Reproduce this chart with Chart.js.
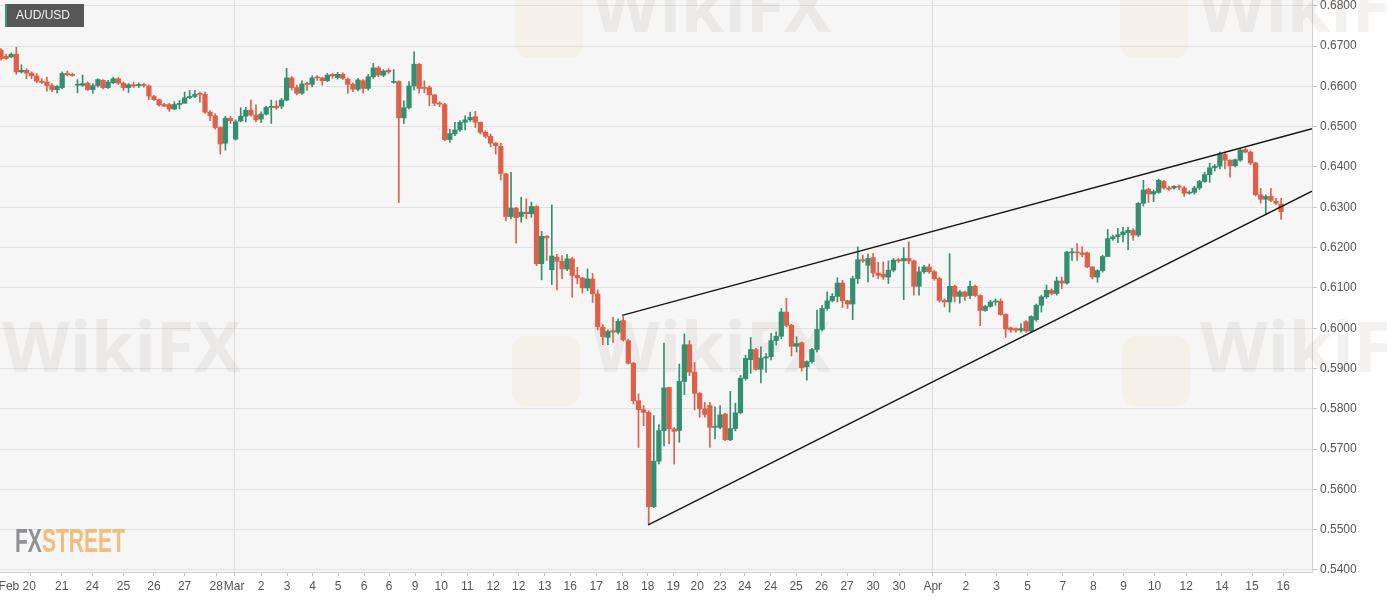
<!DOCTYPE html>
<html>
<head>
<meta charset="utf-8">
<script src="https://cdn.jsdelivr.net/npm/chart.js@4.4.1/dist/chart.umd.min.js"></script>
<style>
html, body { margin: 0; padding: 0; background: #fff; }
#wrap { width: 1387px; height: 598px; }
</style>
</head>
<body>
<div id="wrap"><canvas id="audusd" width="1387" height="598"></canvas></div>
<script>
// AUD/USD 4h candles, one value per candle (index 0 = first candle on the left)
const opens = [
  .6690,.6675,.6673,.6680,.6636,.6640,.6633,.6626,.6613,.6611,
  .6602,.6592,.6597,.6632,.6630,.6603,.6603,.6608,.6592,.6602,
  .6615,.6597,.6609,.6619,.6608,.6597,.6604,.6602,.6605,.6601,
  .6575,.6567,.6555,.6555,.6544,.6555,.6558,.6572,.6575,.6583,
  .6580,.6536,.6527,.6498,.6459,.6521,.6469,.6514,.6526,.6541,
  .6529,.6519,.6531,.6548,.6551,.6551,.6566,.6621,.6597,.6583,
  .6607,.6605,.6623,.6621,.6614,.6630,.6622,.6630,.6618,.6605,
  .6593,.6614,.6595,.6624,.6646,.6628,.6640,.6610,.6612,.6522,
  .6547,.6601,.6655,.6596,.6597,.6579,.6558,.6555,.6468,.6482,
  .6492,.6511,.6517,.6525,.6511,.6486,.6476,.6459,.6451,.6383,
  .6277,.6298,.6277,.6288,.6284,.6302,.6160,.6228,.6145,.6176,
  .6166,.6147,.6172,.6131,.6125,.6100,.6122,.6085,.6002,.5977,
  .5994,.5990,.6019,.5969,.5913,.5820,.5798,.5791,.5557,.5670,
  .5746,.5853,.5750,.5746,.5868,.5959,.5891,.5838,.5800,.5808,
  .5754,.5754,.5787,.5723,.5751,.5790,.5875,.5922,.5947,.5898,
  .5926,.5929,.5969,.5980,.6040,.6007,.5955,.5964,.5904,.5917,
  .5947,.5997,.6049,.6068,.6079,.6112,.6068,.6060,.6123,.6170,
  .6156,.6175,.6137,.6134,.6127,.6144,.6170,.6167,.6173,.6167,
  .6104,.6140,.6152,.6140,.6123,.6069,.6065,.6104,.6079,.6090,
  .6081,.6104,.6081,.6044,.6054,.6065,.6067,.6034,.6001,.5999,
  .5995,.6016,.5993,.6021,.6057,.6078,.6094,.6086,.6117,.6112,
  .6187,.6189,.6187,.6187,.6152,.6127,.6143,.6178,.6222,.6227,
  .6232,.6237,.6243,.6231,.6310,.6345,.6333,.6337,.6364,.6348,
  .6348,.6352,.6348,.6335,.6337,.6348,.6364,.6381,.6398,.6402,
  .6431,.6417,.6403,.6417,.6443,.6437,.6410,.6331,.6320,.6327,
  .6315,.6308
];
const highs = [
  .6694,.6680,.6683,.6697,.6654,.6644,.6636,.6632,.6619,.6623,
  .6607,.6602,.6636,.6638,.6633,.6617,.6628,.6611,.6607,.6619,
  .6617,.6615,.6623,.6622,.6611,.6607,.6611,.6609,.6608,.6604,
  .6578,.6569,.6558,.6558,.6562,.6565,.6586,.6590,.6590,.6586,
  .6586,.6540,.6532,.6500,.6526,.6526,.6517,.6547,.6548,.6566,
  .6554,.6537,.6551,.6566,.6564,.6570,.6645,.6624,.6603,.6614,
  .6611,.6626,.6627,.6623,.6632,.6632,.6635,.6634,.6621,.6609,
  .6620,.6617,.6630,.6657,.6650,.6642,.6644,.6642,.6614,.6564,
  .6612,.6686,.6657,.6614,.6601,.6580,.6562,.6558,.6494,.6511,
  .6515,.6527,.6536,.6538,.6512,.6490,.6482,.6461,.6459,.6384,
  .6387,.6300,.6325,.6321,.6313,.6304,.6240,.6230,.6306,.6183,
  .6180,.6183,.6176,.6151,.6126,.6147,.6136,.6095,.6009,.5996,
  .6027,.6023,.6029,.5973,.5915,.5837,.5808,.5795,.5783,.5761,
  .5963,.5853,.5754,.5911,.5986,.5969,.5915,.5841,.5816,.5816,
  .5805,.5808,.5789,.5843,.5814,.5883,.5933,.5977,.5950,.5954,
  .5937,.5987,.5991,.6049,.6074,.6010,.5979,.5966,.5919,.5950,
  .6045,.6057,.6090,.6086,.6125,.6119,.6069,.6129,.6202,.6181,
  .6184,.6185,.6164,.6164,.6167,.6173,.6173,.6200,.6214,.6169,
  .6152,.6156,.6159,.6144,.6127,.6073,.6185,.6107,.6094,.6092,
  .6117,.6107,.6083,.6057,.6069,.6073,.6073,.6036,.6003,.6001,
  .6011,.6019,.6031,.6060,.6082,.6107,.6098,.6127,.6127,.6191,
  .6198,.6210,.6202,.6189,.6153,.6145,.6181,.6245,.6231,.6248,
  .6250,.6250,.6247,.6312,.6367,.6347,.6343,.6370,.6367,.6352,
  .6354,.6356,.6352,.6341,.6352,.6367,.6387,.6410,.6406,.6437,
  .6437,.6418,.6420,.6445,.6447,.6440,.6412,.6347,.6331,.6347,
  .6322,.6322
];
const lows = [
  .6665,.6667,.6672,.6630,.6633,.6619,.6619,.6609,.6607,.6588,
  .6586,.6584,.6594,.6626,.6625,.6584,.6600,.6590,.6583,.6598,
  .6594,.6595,.6607,.6605,.6590,.6585,.6597,.6597,.6598,.6567,
  .6565,.6551,.6550,.6538,.6542,.6544,.6560,.6569,.6572,.6561,
  .6533,.6515,.6494,.6432,.6442,.6508,.6467,.6512,.6512,.6526,
  .6512,.6510,.6529,.6508,.6543,.6545,.6564,.6591,.6579,.6580,
  .6590,.6599,.6615,.6603,.6612,.6620,.6618,.6617,.6583,.6587,
  .6589,.6583,.6591,.6620,.6624,.6624,.6632,.6608,.6312,.6508,
  .6544,.6591,.6583,.6584,.6552,.6552,.6550,.6465,.6461,.6478,
  .6488,.6492,.6513,.6498,.6482,.6472,.6450,.6432,.6368,.6267,
  .6271,.6211,.6263,.6271,.6275,.6155,.6120,.6168,.6108,.6095,
  .6122,.6143,.6077,.6110,.6087,.6093,.6064,.5996,.5959,.5959,
  .5965,.5986,.5968,.5911,.5812,.5704,.5758,.5512,.5555,.5663,
  .5708,.5713,.5663,.5717,.5835,.5882,.5797,.5779,.5779,.5704,
  .5725,.5750,.5721,.5721,.5745,.5788,.5871,.5888,.5896,.5864,
  .5890,.5921,.5958,.5974,.6003,.5931,.5941,.5894,.5871,.5913,
  .5941,.5993,.6045,.6065,.6065,.6051,.6049,.6021,.6111,.6163,
  .6115,.6127,.6123,.6121,.6111,.6140,.6163,.6071,.6160,.6082,
  .6082,.6136,.6136,.6119,.6065,.6053,.6040,.6065,.6062,.6069,
  .6073,.6079,.6006,.6042,.6052,.6057,.6032,.5977,.5990,.5990,
  .5990,.5990,.5990,.6017,.6040,.6074,.6082,.6082,.6098,.6109,
  .6168,.6168,.6177,.6150,.6122,.6114,.6139,.6177,.6218,.6212,
  .6214,.6195,.6218,.6227,.6303,.6312,.6314,.6335,.6345,.6342,
  .6345,.6344,.6327,.6333,.6333,.6344,.6362,.6362,.6390,.6395,
  .6395,.6375,.6400,.6414,.6435,.6406,.6328,.6310,.6283,.6314,
  .6307,.6270
];
const closes = [
  .6669,.6669,.6680,.6636,.6640,.6633,.6626,.6613,.6610,.6602,
  .6592,.6600,.6632,.6629,.6627,.6605,.6607,.6592,.6602,.6617,
  .6597,.6611,.6619,.6608,.6597,.6604,.6601,.6605,.6602,.6576,
  .6567,.6554,.6551,.6544,.6555,.6558,.6572,.6575,.6580,.6580,
  .6536,.6527,.6498,.6457,.6521,.6515,.6512,.6526,.6541,.6529,
  .6517,.6531,.6548,.6550,.6547,.6566,.6621,.6597,.6583,.6606,
  .6605,.6621,.6621,.6614,.6628,.6626,.6630,.6620,.6605,.6593,
  .6616,.6595,.6624,.6646,.6628,.6638,.6636,.6612,.6522,.6547,
  .6601,.6655,.6595,.6595,.6579,.6558,.6556,.6468,.6483,.6492,
  .6511,.6517,.6523,.6511,.6486,.6476,.6459,.6453,.6384,.6277,
  .6298,.6274,.6288,.6284,.6302,.6160,.6228,.6224,.6179,.6166,
  .6147,.6172,.6131,.6125,.6100,.6122,.6085,.6004,.5979,.5992,
  .5990,.6017,.5971,.5913,.5820,.5798,.5791,.5557,.5670,.5746,
  .5852,.5750,.5744,.5868,.5959,.5891,.5838,.5800,.5786,.5754,
  .5756,.5785,.5723,.5751,.5790,.5876,.5925,.5947,.5898,.5926,
  .5929,.5969,.5980,.6040,.6007,.5955,.5962,.5902,.5917,.5947,
  .5997,.6049,.6068,.6079,.6112,.6068,.6060,.6123,.6170,.6167,
  .6173,.6137,.6131,.6127,.6144,.6169,.6167,.6173,.6167,.6104,
  .6140,.6152,.6140,.6123,.6069,.6065,.6104,.6079,.6090,.6079,
  .6104,.6081,.6044,.6054,.6065,.6067,.6034,.5998,.5996,.5995,
  .5999,.5993,.6029,.6057,.6078,.6094,.6086,.6117,.6112,.6189,
  .6189,.6187,.6183,.6152,.6127,.6143,.6178,.6222,.6227,.6232,
  .6239,.6243,.6231,.6310,.6343,.6333,.6339,.6367,.6348,.6345,
  .6352,.6350,.6335,.6337,.6348,.6364,.6381,.6398,.6402,.6431,
  .6417,.6403,.6418,.6442,.6437,.6410,.6331,.6320,.6327,.6317,
  .6310,.6289
];

// x axis labels, placed at candle positions
const tickPos = [5.8, 11.9, 17.9, 24.0, 30.0, 36.0, 42.2, 45.7,
  51.0, 56.1, 61.1, 66.1, 71.2, 76.1, 81.2, 86.3, 91.4, 96.5, 101.5, 106.6,
  111.6, 116.7, 121.8, 126.8, 131.8, 136.5, 141.0, 145.8, 150.9, 155.9, 160.9, 165.9,
  171.0, 176.1, 182.7, 189.2, 195.2, 201.3, 208.2, 214.2, 220.1, 226.2, 232.4, 239.4, 245.3, 251.4];
const tickText = ['Feb 20        ', '21', '24', '25', '26', '27', '28', 'Mar',
  '2', '3', '4', '5', '6', '6', '9', '10', '11', '12', '12', '13',
  '16', '17', '18', '18', '19', '20', '23', '24', '24', '25', '26', '27',
  '30', '30', 'Apr', '2', '3', '5', '7', '8', '9', '10', '12', '14', '15', '16'];
const monthTicks = ['Mar', 'Apr'];
const yTicks = [0.54, 0.55, 0.56, 0.57, 0.58, 0.59, 0.60, 0.61, 0.62, 0.63, 0.64, 0.65, 0.66, 0.67, 0.68];

// wedge lines: [candle index, price]
const upperLine = [[121.8, 0.6032], [257.06, 0.6495]];
const lowerLine = [[126.9, 0.5512], [257.06, 0.6340]];

const GREEN = '#338f70', RED = '#df6048';
const candleColors = closes.map((c, i) => c >= opens[i] ? GREEN : RED);
const bodies = opens.map((o, i) => ({x: i, y: [Math.min(o, closes[i]), Math.max(o, closes[i])]}));
const wicks = highs.map((h, i) => ({x: i, y: [lows[i], h]}));

Chart.defaults.font.family = '"Liberation Sans", Arial, sans-serif';

const decor = {
    id: 'decor',
    beforeDraw(chart) {
        const {ctx, chartArea: a} = chart;
        ctx.save();
        ctx.fillStyle = '#ffffff';
        ctx.fillRect(0, 0, chart.width, chart.height);
        ctx.fillStyle = '#f6f6f6';
        ctx.fillRect(a.left, a.top, a.right - a.left, a.bottom - a.top);
        ctx.restore();
    },
    beforeDatasetsDraw(chart) {
        // faint watermarks
        const ctx = chart.ctx;
        ctx.save();
        ctx.fillStyle = 'rgba(240,195,110,0.10)';
        [[515, -12], [1120, -12], [512, 336], [1122, 336]].forEach(([x, y]) => {
            ctx.beginPath();
            ctx.roundRect(x, y, 68, 70, 14);
            ctx.fill();
        });
        ctx.font = 'bold 70px "Open Sans", sans-serif';
        ctx.fillStyle = 'rgba(150,125,120,0.10)';
        [[592, 32], [1198, 32], [2, 372], [592, 372], [1200, 372]].forEach(([x, y]) => {
            ctx.fillText('WikiFX', x, y);
        });
        ctx.restore();
    },
    afterDraw(chart) {
        const ctx = chart.ctx;
        ctx.save();
        // pair label
        ctx.fillStyle = '#575757';
        ctx.fillRect(5, 4, 79, 23);
        ctx.fillStyle = '#2e9a76';
        ctx.fillRect(5, 4, 2, 23);
        ctx.fillStyle = '#f2f2f2';
        ctx.font = '12px "Liberation Sans", Arial, sans-serif';
        ctx.textBaseline = 'middle';
        ctx.fillText('AUD/USD', 16, 16);
        // FXSTREET logo
        ctx.font = 'bold 33px "Liberation Sans Narrow", "Liberation Sans", sans-serif';
        ctx.textBaseline = 'alphabetic';
        const w1 = ctx.measureText('FX').width, w2 = ctx.measureText('STREET').width;
        const sx = 110 / (w1 + w2);
        ctx.translate(15, 552);
        ctx.scale(sx, 1);
        ctx.fillStyle = 'rgba(135,135,140,0.9)';
        ctx.fillText('FX', 0, 0);
        ctx.fillStyle = 'rgba(242,182,112,0.9)';
        ctx.fillText('STREET', w1, 0);
        ctx.restore();
    }
};

function noPad(scale) {
    scale.paddingTop = 0;
    scale.paddingBottom = 0;
    scale.paddingLeft = 0;
    scale.paddingRight = 0;
}

new Chart(document.getElementById('audusd'), {
    type: 'bar',
    data: {
        datasets: [{
            label: 'body',
            data: bodies,
            backgroundColor: candleColors,
            barThickness: 4.6,
            minBarLength: 1,
            grouped: false,
            order: 2
        }, {
            label: 'wick',
            data: wicks,
            backgroundColor: candleColors,
            barThickness: 1,
            grouped: false,
            order: 3
        }, {
            type: 'line',
            label: 'upper',
            data: upperLine.map(p => ({x: p[0], y: p[1]})),
            borderColor: '#151515',
            borderWidth: 1.3,
            pointRadius: 0,
            order: 1
        }, {
            type: 'line',
            label: 'lower',
            data: lowerLine.map(p => ({x: p[0], y: p[1]})),
            borderColor: '#151515',
            borderWidth: 1.3,
            pointRadius: 0,
            order: 1
        }]
    },
    options: {
        responsive: false,
        animation: false,
        devicePixelRatio: 1,
        layout: {padding: 0},
        plugins: {legend: {display: false}, tooltip: {enabled: false}},
        scales: {
            x: {
                type: 'linear',
                min: -0.196,
                max: 257.06,
                offset: false,
                afterBuildTicks: s => { s.ticks = tickPos.map(v => ({value: v})); },
                afterFit: s => { s.height = 26; noPad(s); },
                ticks: {
                    autoSkip: false, minRotation: 0, maxRotation: 0, padding: 3,
                    color: '#555', font: {size: 12},
                    callback: (v, i) => tickText[i]
                },
                grid: {
                    offset: false,
                    color: c => (c.tick && monthTicks.includes(tickText[c.index])) ? '#dcdcdc' : 'rgba(0,0,0,0)',
                    tickColor: '#c4c4c4',
                    tickLength: 4
                },
                border: {color: '#d2d2d2'}
            },
            y: {
                position: 'right',
                min: 0.5395,
                max: 0.68144,
                afterBuildTicks: s => { s.ticks = yTicks.map(v => ({value: v})); },
                afterFit: s => { s.width = 75; noPad(s); },
                ticks: {
                    padding: 3, color: '#555', font: {size: 12},
                    callback: v => v.toFixed(4)
                },
                grid: {color: '#e2e2e2', tickColor: '#c4c4c4', tickLength: 5},
                border: {color: '#d2d2d2'}
            }
        }
    },
    plugins: [decor]
});
</script>
</body>
</html>
